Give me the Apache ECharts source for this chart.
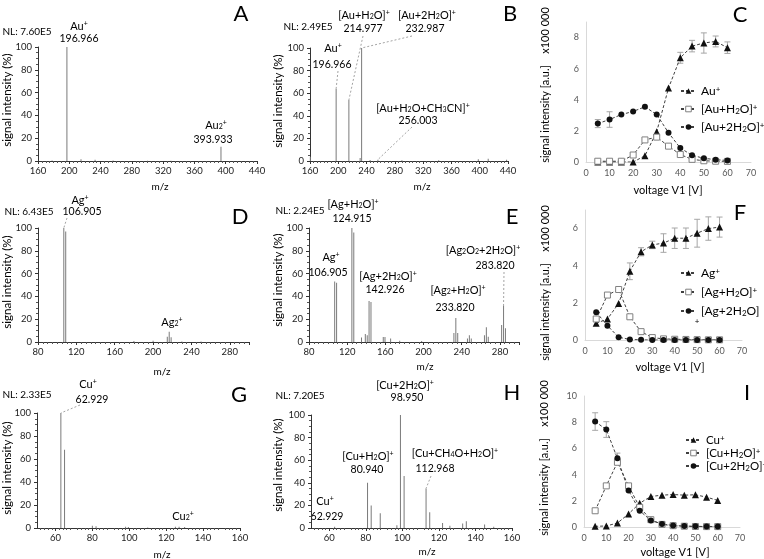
<!DOCTYPE html>
<html>
<head>
<meta charset="utf-8">
<script src="https://cdn.jsdelivr.net/npm/echarts@6/dist/echarts.min.js"></script>
<style>
html, body { margin: 0; padding: 0; background: #fff; }
#chart { width: 764px; height: 559px; }
</style>
</head>
<body>
<div id="chart"></div>
<script>
const FONT = 'Lato';

// mass spectra, [m/z, relative intensity %]
const specA = [[178, 0.4], [196.966, 100], [214.977, 1.5], [232.987, 1], [256, 0.4], [300, 0.3], [330, 0.3], [393.933, 12.5]];
const specB = [[160.5, 3.8], [196.966, 64], [214.977, 54], [230.9, 2.6], [232.987, 100], [245, 0.8], [256.003, 1.2],
    [290, 0.6], [342, 0.6], [398, 1.5], [412, 2], [438, 1]];
const specD = [[106.905, 100], [108.905, 97], [180, 0.8], [200, 1], [214.8, 4.5], [216.8, 9], [218.8, 4.2], [230, 0.5], [250, 0.5]];
const specE = [[106.905, 53], [108.905, 52], [124.915, 100], [126.915, 96], [135, 4], [139, 7], [141, 6],
    [142.926, 36], [144.926, 35], [157.8, 4.4], [159.6, 4.4], [165.5, 3], [175, 1], [198, 0.8],
    [231.8, 8], [233.82, 21], [235.8, 8], [246, 3], [248, 6], [250, 3],
    [263.8, 6], [265.8, 13], [267.8, 4.5], [281.8, 15], [283.82, 32], [285.8, 12]];
const specG = [[62.929, 100], [64.928, 68], [80, 2], [82, 1.5], [98, 1], [99.5, 0.8], [110, 0.5], [125, 1], [127, 1], [130, 0.8]];
const specH = [[62.929, 1], [80.94, 40], [82.94, 20], [87.9, 13], [97, 2.5], [98.95, 100], [100.95, 46],
    [112.968, 35], [114.97, 14], [122, 4.5], [126, 2], [133, 4], [135, 6], [145, 3], [150, 1]];

// voltage scans (x100 000 a.u.)
const voltages = [5, 10, 15, 20, 25, 30, 35, 40, 45, 50, 55, 60];
const auPlus = [0, 0, 0, 0, 0.4, 1.95, 4.75, 6.7, 7.45, 7.65, 7.75, 7.35];
const auH2O = [0.05, 0.05, 0.05, 0.45, 1.42, 1.6, 1.02, 0.48, 0.17, 0.08, 0.05, 0.04];
const au2H2O = [2.47, 2.73, 3.05, 3.25, 3.55, 3.05, 1.88, 0.9, 0.43, 0.24, 0.15, 0.1];
const auPlusErr = [0, 0, 0, 0, 0, 0, 0, 0.35, 0.37, 0.65, 0.35, 0.37];
const au2H2OErr = [0.26, 0.5, 0, 0, 0, 0, 0, 0, 0, 0, 0, 0];

const agPlus = [0.9, 1.13, 1.97, 3.7, 4.75, 5.12, 5.22, 5.48, 5.48, 5.75, 6.0, 6.08];
const agH2O = [1.13, 2.42, 2.72, 1.25, 0.45, 0.13, 0.06, 0.04, 0.03, 0.02, 0.01, 0.01];
const ag2H2O = [1.5, 0.77, 0.15, 0.03, 0.01, 0, 0, 0, 0, 0, 0, 0];
const agPlusErr = [0, 0, 0, 0.45, 0.22, 0.2, 0.5, 0.55, 0.55, 0.75, 0.63, 0.54];

const cuPlus = [0.05, 0.08, 0.3, 1.0, 1.82, 2.33, 2.43, 2.48, 2.43, 2.46, 2.28, 2.03];
const cuH2O = [1.24, 3.14, 4.94, 3.14, 1.5, 0.56, 0.2, 0.1, 0.06, 0.04, 0.03, 0.03];
const cu2H2O = [8.05, 7.44, 5.24, 2.78, 1.24, 0.5, 0.23, 0.12, 0.07, 0.05, 0.04, 0.04];
const cu2H2OErr = [0.67, 0.6, 0.4, 0, 0, 0, 0, 0, 0, 0, 0, 0];

const cuTicks = [60, 80, 100, 120, 140, 160];

// plot areas A..I
const grids = [
    { left: 38, top: 47, width: 219, height: 114 },
    { left: 310, top: 48, width: 198, height: 113 },
    { left: 586, top: 22, width: 165, height: 140 },
    { left: 38, top: 228, width: 211, height: 114 },
    { left: 309, top: 228, width: 210, height: 114 },
    { left: 585, top: 210, width: 157, height: 130 },
    { left: 37, top: 413, width: 203, height: 115 },
    { left: 311, top: 415, width: 201, height: 113 },
    { left: 584, top: 396, width: 156, height: 131 }
];

// "_2" -> subscript, "^+" -> superscript
function rt(s) {
    return s.replace(/_(\w)/g, '{s|$1}').replace(/\^\+/g, '{p|+}');
}
function richFor(fs) {
    const small = Math.round(fs * 0.68);
    return {
        s: { fontSize: small, fontFamily: FONT, verticalAlign: 'bottom', color: '#000' },
        p: { fontSize: small, fontFamily: FONT, verticalAlign: 'top', color: '#000' }
    };
}

function specX(min, max, interval, extra) {
    return Object.assign({
        type: 'value', min: min, max: max, interval: interval,
        axisLine: { show: true, lineStyle: { color: '#333' } },
        axisTick: { show: true, length: 3, lineStyle: { color: '#333' } },
        minorTick: { show: true, splitNumber: 8, length: 2, lineStyle: { color: '#555' } },
        splitLine: { show: false },
        axisLabel: { color: '#222', fontSize: 9.5, margin: 5, showMaxLabel: false }
    }, extra || {});
}
function specY() {
    return {
        type: 'value', min: 0, max: 100, interval: 20,
        axisLine: { show: true, lineStyle: { color: '#333' } },
        axisTick: { show: true, length: 3, lineStyle: { color: '#333' } },
        minorTick: { show: true, splitNumber: 4, length: 2, lineStyle: { color: '#555' } },
        splitLine: { show: false },
        axisLabel: { color: '#222', fontSize: 9.5, margin: 6 }
    };
}
function voltX() {
    return {
        type: 'value', min: 0, max: 70, interval: 10,
        axisLine: { show: true, lineStyle: { color: '#d9d9d9' } },
        axisTick: { show: false }, splitLine: { show: false },
        axisLabel: { color: '#595959', fontSize: 9, margin: 7 }
    };
}
function voltY(max, showMax) {
    return {
        type: 'value', min: 0, max: max, interval: 2,
        axisLine: { show: true, lineStyle: { color: '#d9d9d9' } },
        axisTick: { show: false }, splitLine: { show: false },
        axisLabel: { color: '#595959', fontSize: 9, margin: 7, showMaxLabel: showMax }
    };
}
const cuX = {
    minorTick: { show: true, splitNumber: 5, length: 2, lineStyle: { color: '#555' } },
    axisLabel: { color: '#222', fontSize: 9.5, margin: 5, customValues: cuTicks },
    axisTick: { show: true, length: 3, lineStyle: { color: '#333' }, customValues: cuTicks }
};
const auX = { axisLabel: { color: '#222', fontSize: 9.5, margin: 5, showMaxLabel: true } };

const xAxes = [
    specX(160, 440, 40, auX), specX(160, 440, 40, auX), voltX(),
    specX(80, 300, 40), specX(80, 300, 40), voltX(),
    specX(50, 160, 10, cuX), specX(50, 160, 10, cuX), voltX()
];
xAxes.forEach((a, i) => a.gridIndex = i);
const yAxes = [specY(), specY(), voltY(9, false), specY(), specY(), voltY(7, false), specY(), specY(), voltY(10, true)];
yAxes.forEach((a, i) => a.gridIndex = i);

const series = [];
[[0, specA], [1, specB], [3, specD], [4, specE], [6, specG], [7, specH]].forEach(([g, d]) => {
    series.push({
        type: 'bar', xAxisIndex: g, yAxisIndex: g, data: d, barWidth: 1,
        itemStyle: { color: '#7a7a7a' }, silent: true
    });
});

const markers = {
    tri: { symbol: 'triangle', symbolSize: 7, itemStyle: { color: '#111' } },
    sq: { symbol: 'rect', symbolSize: 6, itemStyle: { color: '#fff', borderColor: '#808080', borderWidth: 1 } },
    dot: { symbol: 'circle', symbolSize: 6, itemStyle: { color: '#111' } }
};
const legendStyles = {
    tri: { color: '#111' },
    sq: { color: '#fff', borderColor: '#808080', borderWidth: 1 },
    dot: { color: '#111' }
};
function errRender(params, api) {
    const x = api.value(0), y = api.value(1), e = api.value(2);
    const t = api.coord([x, y + e]), b = api.coord([x, y - e]);
    const st = { stroke: '#a6a6a6', lineWidth: 1 };
    return {
        type: 'group', children: [
            { type: 'line', shape: { x1: t[0], y1: t[1], x2: b[0], y2: b[1] }, style: st },
            { type: 'line', shape: { x1: t[0] - 3, y1: t[1], x2: t[0] + 3, y2: t[1] }, style: st },
            { type: 'line', shape: { x1: b[0] - 3, y1: b[1], x2: b[0] + 3, y2: b[1] }, style: st }
        ]
    };
}
function addVolt(g, name, vals, mk, errs) {
    if (errs) {
        series.push({
            type: 'custom', xAxisIndex: g, yAxisIndex: g, silent: true, z: 1,
            renderItem: errRender,
            data: voltages.map((v, i) => [v, vals[i], errs[i]]).filter(p => p[2] > 0)
        });
    }
    series.push(Object.assign({
        type: 'line', name: name, xAxisIndex: g, yAxisIndex: g, z: 3,
        data: voltages.map((v, i) => [v, vals[i]]),
        lineStyle: { color: '#404040', width: 1, type: [3, 2] }
    }, markers[mk]));
}
addVolt(2, 'Au^+', auPlus, 'tri', auPlusErr);
addVolt(2, '[Au+H_2O]^+', auH2O, 'sq');
addVolt(2, '[Au+2H_2O]^+', au2H2O, 'dot', au2H2OErr);
addVolt(5, 'Ag^+', agPlus, 'tri', agPlusErr);
addVolt(5, '[Ag+H_2O]^+', agH2O, 'sq');
addVolt(5, '[Ag+2H_2O]', ag2H2O, 'dot');
addVolt(8, 'Cu^+', cuPlus, 'tri');
addVolt(8, '[Cu+H_2O]^+', cuH2O, 'sq');
addVolt(8, '[Cu+2H_2O]^+', cu2H2O, 'dot', cu2H2OErr);

function legend(names, left, top, gap, fs) {
    const kinds = ['tri', 'sq', 'dot'];
    return {
        data: names.map((n, i) => ({ name: n, itemStyle: legendStyles[kinds[i]] })),
        orient: 'vertical', left: left, top: top, itemGap: gap,
        itemWidth: 15, itemHeight: 7, selectedMode: false,
        formatter: n => rt(n),
        textStyle: { fontFamily: FONT, fontSize: fs, color: '#000', rich: richFor(fs) }
    };
}

const option = {
    animation: false,
    textStyle: { fontFamily: FONT },
    grid: grids.map(g => Object.assign({ outerBoundsMode: 'none', containLabel: false }, g)),
    xAxis: xAxes,
    yAxis: yAxes,
    legend: [
        legend(['Au^+', '[Au+H_2O]^+', '[Au+2H_2O]^+'], 675, 80, 6, 12),
        legend(['Ag^+', '[Ag+H_2O]^+', '[Ag+2H_2O]'], 675, 262, 7, 12),
        legend(['Cu^+', '[Cu+H_2O]^+', '[Cu+2H_2O]^+'], 680, 429, 1, 11.5)
    ],
    series: series
};

// annotation texts: [x, y, text, fontSize]
const notes = [
    [27, 32, 'NL: 7.60E5', 10], [79, 26, 'Au^+', 11], [79, 39, '196.966', 10.5],
    [216, 125, 'Au_2^+', 11], [213, 140, '393.933', 10.5],
    [308, 27, 'NL: 2.49E5', 10], [364, 15, '[Au+H_2O]^+', 11], [363, 29, '214.977', 10.5],
    [427, 15, '[Au+2H_2O]^+', 11], [425, 29, '232.987', 10.5], [333, 48, 'Au^+', 11], [332, 65, '196.966', 10.5],
    [423, 108, '[Au+H_2O+CH_3CN]^+', 11], [418, 121, '256.003', 10.5],
    [29, 212, 'NL: 6.43E5', 10], [80, 200, 'Ag^+', 11], [82, 212, '106.905', 10.5], [172, 322, 'Ag_2^+', 11],
    [300, 211, 'NL: 2.24E5', 10], [353, 204, '[Ag+H_2O]^+', 11], [352, 219, '124.915', 10.5],
    [331, 257, 'Ag^+', 11], [328, 273, '106.905', 10.5], [388, 276, '[Ag+2H_2O]^+', 11], [385, 290, '142.926', 10.5],
    [458, 290, '[Ag_2+H_2O]^+', 11], [455, 308, '233.820', 10.5],
    [483, 250, '[Ag_2O_2+2H_2O]^+', 11], [495, 266, '283.820', 10.5],
    [27, 395, 'NL: 2.33E5', 10], [88, 384, 'Cu^+', 11], [92, 400, '62.929', 10.5], [183, 516, 'Cu_2^+', 11],
    [300, 396, 'NL: 7.20E5', 10], [405, 385, '[Cu+2H_2O]^+', 11], [407, 398, '98.950', 10.5],
    [368, 456, '[Cu+H_2O]^+', 11], [367, 470, '80.940', 10.5],
    [455, 453, '[Cu+CH_4O+H_2O]^+', 11], [435, 469, '112.968', 10.5],
    [325, 501, 'Cu^+', 11], [327, 517, '62.929', 10.5],
    [697, 321, '+', 8],
    [160, 187, 'm/z', 10], [422, 187, 'm/z', 10], [162, 372, 'm/z', 10],
    [425, 367, 'm/z', 10], [162, 555, 'm/z', 10], [427, 552, 'm/z', 10],
    [668, 190, 'voltage V1 [V]', 11], [670, 367, 'voltage V1 [V]', 11], [675, 552, 'voltage V1 [V]', 11]
];
const letters = [[241, 14, 'A'], [510, 14, 'B'], [740, 15, 'C'], [240, 217, 'D'], [512, 217, 'E'],
    [740, 213, 'F'], [239, 395, 'G'], [512, 393, 'H'], [747, 393, 'I']];
// rotated axis titles: [x, y, text]
const yTitles = [
    [7, 100, 'signal intensity (%)'], [278, 101, 'signal intensity (%)'],
    [7, 282, 'signal intensity (%)'], [278, 280, 'signal intensity (%)'],
    [7, 468, 'signal intensity (%)'], [278, 465, 'signal intensity (%)'],
    [545, 85, 'signal intensity [a.u.]    x100 000'], [545, 283, 'signal intensity [a.u.]    x100 000'],
    [544, 458, 'signal intensity [a.u.]    x100 000']
];
// dashed leaders: [grid, x1, y1, peak m/z, peak %]
const leaders = [
    [1, 338, 71, 196.966, 64], [1, 363, 36, 214.977, 54], [1, 412, 36, 232.987, 100], [1, 412, 127, 256.003, 1.2],
    [3, 67, 218, 106.905, 100], [4, 504, 272, 283.82, 32], [6, 80, 405, 62.929, 100], [7, 431, 476, 112.968, 35]
];

function txt(x, y, s, fs, rot) {
    return {
        type: 'text', x: x, y: y, rotation: rot || 0, silent: true,
        style: {
            text: rt(s), fill: '#000', fontFamily: FONT, fontSize: fs,
            align: 'center', verticalAlign: 'middle', textAlign: 'center', textVerticalAlign: 'middle',
            rich: richFor(fs)
        }
    };
}

const chart = echarts.init(document.getElementById('chart'));
chart.setOption(option);

const elements = [];
notes.forEach(n => elements.push(txt(n[0], n[1], n[2], n[3])));
letters.forEach(l => elements.push(txt(l[0], l[1], l[2], 22)));
yTitles.forEach(t => elements.push(txt(t[0], t[1], t[2], t[2].indexOf('%') >= 0 ? 11.5 : 11, Math.PI / 2)));
leaders.forEach(l => {
    const p = chart.convertToPixel({ gridIndex: l[0] }, [l[3], l[4]]);
    elements.push({
        type: 'line', silent: true,
        shape: { x1: l[1], y1: l[2], x2: p[0], y2: p[1] },
        style: { stroke: '#8c8c8c', lineWidth: 0.8, lineDash: [2, 2] }
    });
});
chart.setOption({ graphic: { elements: elements } });
</script>
</body>
</html>
